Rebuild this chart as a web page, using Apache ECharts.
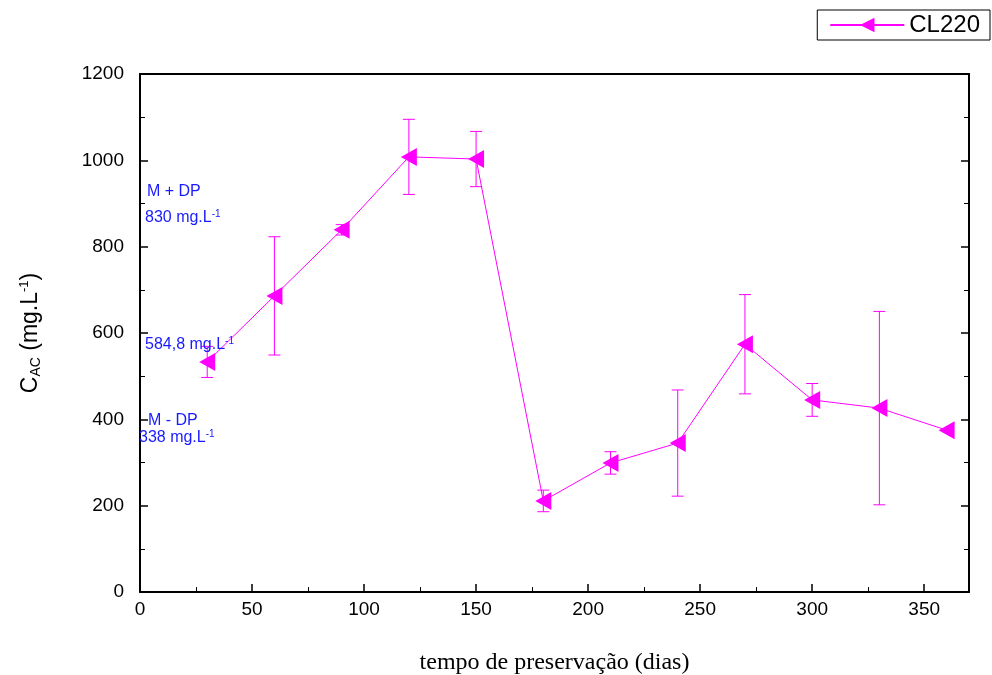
<!DOCTYPE html>
<html style="height:100%">
<head>
  <meta charset="UTF-8">
  <title>CL220 - tempo de preservação</title>
  <script src="https://cdn.jsdelivr.net/npm/echarts/dist/echarts.min.js"></script>
  <style>
    html, body { margin: 0; padding: 0; background: #fff; }
    #chart { width: 992px; height: 675px; }
  </style>
</head>
<body>
<div id="chart"></div>
<script>
  // ---- data ----
  var dias   = [30, 60, 90, 120, 150, 180, 210, 240, 270, 300, 330, 360];
  var cac    = [533, 686, 839, 1008, 1003, 211, 299, 345, 574, 445, 426, 375];
  var errPos = [36, 137, 12, 87, 64, 25, 26, 123, 115, 38, 224, 0];

  var magenta = '#ff00ff';
  var blue = '#1a1aff';

  var lineData = dias.map(function (d, i) { return [d, cac[i]]; });
  var errData = dias.map(function (d, i) { return [d, cac[i] - errPos[i], cac[i] + errPos[i]]; })
    .filter(function (e) { return e[2] > e[1]; });

  var myChart = echarts.init(document.getElementById('chart'));

  var supRich = {
    n: { fontSize: 16, fill: blue, fontFamily: 'Liberation Sans, Arial' },
    s: { fontSize: 10, fill: blue, fontFamily: 'Liberation Sans, Arial', verticalAlign: 'top', padding: [0, 0, 8, 0] }
  };
  function note(x, y, str) {
    return {
      type: 'text', left: x, top: y, z: 50,
      style: { text: str, rich: supRich, fill: blue, fontSize: 16, fontFamily: 'Liberation Sans, Arial' }
    };
  }

  var option = {
    animation: false,
    grid: { left: 140, right: 23, top: 74, bottom: 83, outerBoundsMode: 'none', containLabel: false },
    legend: {
      right: 2, top: 10,
      data: ['CL220'],
      itemWidth: 74, itemHeight: 18,
      itemGap: 4,
      padding: [3, 10, 3, 12],
      borderColor: '#000', borderWidth: 1,
      textStyle: { fontSize: 24, color: '#000', fontFamily: 'Liberation Sans, Arial' }
    },
    xAxis: [{
      type: 'value', min: 0, max: 370, interval: 50,
      name: 'tempo de preservação (dias)',
      nameLocation: 'middle', nameGap: 59,
      nameTextStyle: { fontFamily: 'Liberation Serif, Times New Roman', fontSize: 24, color: '#000' },
      axisLine: { onZero: false, lineStyle: { color: '#000', width: 2 } },
      axisTick: { inside: true, length: 8, lineStyle: { color: '#000', width: 1.5 } },
      minorTick: { show: true, splitNumber: 2, length: 5, lineStyle: { color: '#000', width: 1 } },
      axisLabel: {
        color: '#000', fontSize: 19, fontFamily: 'Liberation Sans, Arial', margin: 8,
        showMaxLabel: false
      },
      splitLine: { show: false }
    }, {
      type: 'value', min: 0, max: 370, interval: 50, position: 'top',
      axisLine: { onZero: false, lineStyle: { color: '#000', width: 2 } },
      axisTick: { show: false },
      axisLabel: { show: false },
      splitLine: { show: false }
    }],
    yAxis: [{
      type: 'value', min: 0, max: 1200, interval: 200,
      name: '{n|C}{sub|AC}{n| (mg.L}{sup|-1}{n|)}',
      nameLocation: 'middle', nameGap: 97, nameRotate: 90,
      nameTextStyle: {
        rich: {
          n: { fontSize: 23, color: '#000', fontFamily: 'Liberation Sans, Arial' },
          sub: { fontSize: 14, color: '#000', fontFamily: 'Liberation Sans, Arial', verticalAlign: 'bottom', padding: [10, 0, 0, 0] },
          sup: { fontSize: 13, color: '#000', fontFamily: 'Liberation Sans, Arial', verticalAlign: 'top', padding: [0, 0, 12, 0] }
        }
      },
      axisLine: { onZero: false, lineStyle: { color: '#000', width: 2 } },
      axisTick: { inside: true, length: 8, lineStyle: { color: '#000', width: 1.5 } },
      minorTick: { show: true, splitNumber: 2, length: 5, lineStyle: { color: '#000', width: 1 } },
      axisLabel: {
        color: '#000', fontSize: 19, fontFamily: 'Liberation Sans, Arial', margin: 16,
        formatter: function (v) { return String(v); }
      },
      splitLine: { show: false }
    }, {
      type: 'value', min: 0, max: 1200, interval: 200, position: 'right',
      axisLine: { onZero: false, lineStyle: { color: '#000', width: 2 } },
      axisTick: { inside: true, length: 8, lineStyle: { color: '#000', width: 1.5 } },
      minorTick: { show: true, splitNumber: 2, length: 5, lineStyle: { color: '#000', width: 1 } },
      axisLabel: { show: false },
      splitLine: { show: false }
    }],
    graphic: [
      note(147, 184, 'M + DP'),
      note(145, 209, '{n|830 mg.L}{s|-1}'),
      note(145, 336, '{n|584,8 mg.L}{s|-1}'),
      note(148, 413, 'M - DP'),
      note(139, 429, '{n|338 mg.L}{s|-1}')
    ],
    series: [{
      name: 'CL220',
      type: 'line',
      data: lineData,
      symbol: 'triangle',
      symbolRotate: 90,
      symbolSize: [18, 16],
      itemStyle: { color: magenta },
      lineStyle: { color: magenta, width: 1 },
      z: 5
    }, {
      name: 'err',
      type: 'custom',
      data: errData,
      z: 4,
      renderItem: function (params, api) {
        var x = api.value(0);
        var lo = api.coord([x, api.value(1)]);
        var hi = api.coord([x, api.value(2)]);
        var cap = 6;
        var st = { stroke: magenta, lineWidth: 1 };
        return {
          type: 'group',
          children: [
            { type: 'line', shape: { x1: lo[0], y1: lo[1], x2: hi[0], y2: hi[1] }, style: st },
            { type: 'line', shape: { x1: lo[0] - cap, y1: lo[1], x2: lo[0] + cap, y2: lo[1] }, style: st },
            { type: 'line', shape: { x1: hi[0] - cap, y1: hi[1], x2: hi[0] + cap, y2: hi[1] }, style: st }
          ]
        };
      }
    }]
  };

  myChart.setOption(option);
</script>
</body>
</html>
